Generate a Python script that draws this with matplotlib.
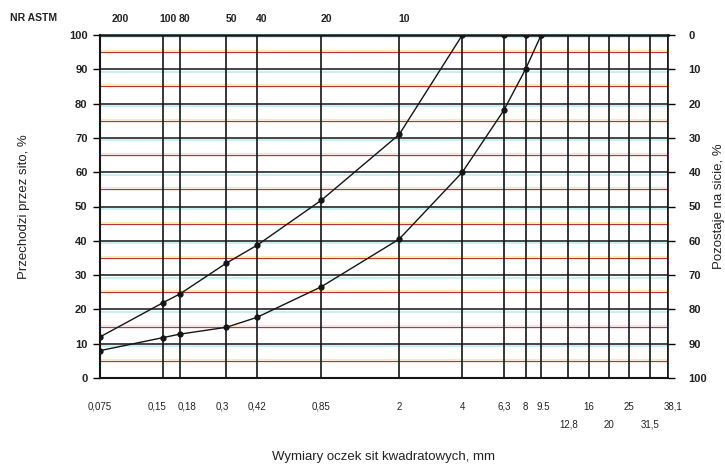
import matplotlib.pyplot as plt
from matplotlib.ticker import NullLocator
from matplotlib.transforms import offset_copy, ScaledTranslation

plt.rcParams['font.family'] = ['Liberation Sans', 'DejaVu Sans']

# sieve sizes, mm
sieves = [0.075, 0.15, 0.18, 0.3, 0.42, 0.85, 2, 4, 6.3, 8, 9.5, 12.8, 16, 20, 25, 31.5, 38.1]

# upper row / lower row of bottom labels
row1_sizes = [0.075, 0.15, 0.18, 0.3, 0.42, 0.85, 2, 4, 6.3, 8, 9.5, 16, 25, 38.1]
row1_labels = ['0,075', '0,15', '0,18', '0,3', '0,42', '0,85', '2', '4', '6,3', '8', '9.5', '16', '25', '38,1']
row2_sizes = [12.8, 20, 31.5]
row2_labels = ['12,8', '20', '31,5']

# ASTM sieve numbers on top
astm_sizes = [0.075, 0.15, 0.18, 0.3, 0.42, 0.85, 2]
astm_labels = ['200', '100', '80', '50', '40', '20', '10']

# grading curves: passing %
upper_x = [0.075, 0.15, 0.18, 0.3, 0.42, 0.85, 2, 4, 6.3, 8, 9.5]
upper_y = [12, 22, 24.5, 33.5, 38.7, 51.8, 71, 100, 100, 100, 100]
lower_x = [0.075, 0.15, 0.18, 0.3, 0.42, 0.85, 2, 4, 6.3, 8, 9.5]
lower_y = [8, 11.8, 12.8, 14.8, 17.7, 26.6, 40.5, 60, 78, 90, 100]

left_ticks = list(range(0, 101, 10))
right_labels = [str(100 - v) for v in left_ticks]
grid_levels = list(range(5, 100, 10))

fig = plt.figure(figsize=(7.25, 4.72), dpi=100)
ax = fig.add_axes([0.138, 0.199, 0.783, 0.727])

ax.set_xscale('log')
ax.set_xlim(0.075, 38.1)
ax.set_ylim(0, 100)

# horizontal grid (scanned look: black at tens with cyan shadow, red at fives)
for lev in left_ticks:
    ax.axhline(lev - 0.7, color='#bfeff2', lw=1.2, zorder=1)
    ax.axhline(lev, color='#151515', lw=1.1, zorder=2)
for lev in grid_levels:
    ax.axhline(lev, color='#b8333a', lw=0.9, zorder=2)
    ax.axhline(lev + 0.6, color='#f3eeb0', lw=0.8, zorder=1)

# vertical lines at sieve sizes
for s in sieves:
    ax.axvline(s, color='#151515', lw=1.2, zorder=3)

ax.plot(upper_x, upper_y, color='#151515', lw=1.0, marker='o', ms=3.5, zorder=4)
ax.plot(lower_x, lower_y, color='#151515', lw=1.0, marker='o', ms=3.5, zorder=4)

for sp in ['top', 'bottom', 'left', 'right']:
    ax.spines[sp].set_color('#151515')
ax.spines['top'].set_linewidth(1.8)
ax.spines['left'].set_linewidth(1.5)
ax.spines['bottom'].set_linewidth(1.5)
ax.spines['right'].set_linewidth(1.2)

ax.set_yticks(left_ticks)
ax.set_yticklabels([str(v) for v in left_ticks], fontsize=8, fontweight='bold', color='#222222')
ax.tick_params(axis='y', length=5, width=1, pad=4)

ax.xaxis.set_minor_locator(NullLocator())
ax.set_xticks(row1_sizes + row2_sizes)
xlabels = ax.set_xticklabels(row1_labels + ['\n' + t for t in row2_labels], fontsize=7, color='#222222')
ax.tick_params(axis='x', length=0, pad=17)
for lab in xlabels[len(row1_labels):]:
    lab.set_linespacing(2.0)
# the sheet sets a few crowded labels a little off their lines
shifts = {'0,15': -6, '0,18': 7, '0,3': -4, '9.5': 2, '38,1': 5}
for lab in xlabels:
    if lab.get_text() in shifts:
        lab.set_transform(lab.get_transform() +
                          ScaledTranslation(shifts[lab.get_text()] / 100, 0, fig.dpi_scale_trans))
ax.set_xlabel('Wymiary oczek sit kwadratowych, mm', fontsize=9.5, color='#222222', labelpad=15)
ax.set_ylabel('Przechodzi przez sito, %', fontsize=9.5, color='#222222', labelpad=28)

ax2 = ax.twinx()
ax2.set_ylim(0, 100)
ax2.set_yticks(left_ticks)
ax2.set_yticklabels(right_labels, fontsize=8, fontweight='bold', color='#222222')
ax2.tick_params(axis='y', length=5, width=1, pad=10)
ax2.set_ylabel('Pozostaje na sicie, %', fontsize=9.5, color='#222222', labelpad=4)
for sp in ['top', 'bottom', 'left', 'right']:
    ax2.spines[sp].set_visible(False)

# ASTM numbers, slightly right of their lines as in the original sheet
for i, (s, lab) in enumerate(zip(astm_sizes, astm_labels)):
    dx = 20 if i == 0 else 5
    tr = offset_copy(ax.get_xaxis_transform(), fig=fig, x=dx, y=0, units='dots')
    ax.text(s, 1.045, lab, transform=tr, ha='center', va='center',
            fontsize=7.5, fontweight='bold', color='#222222')
fig.text(0.014, 0.962, 'NR ASTM', fontsize=7.5, fontweight='bold', color='#222222', va='center')

fig.savefig('out.png', dpi=100)
